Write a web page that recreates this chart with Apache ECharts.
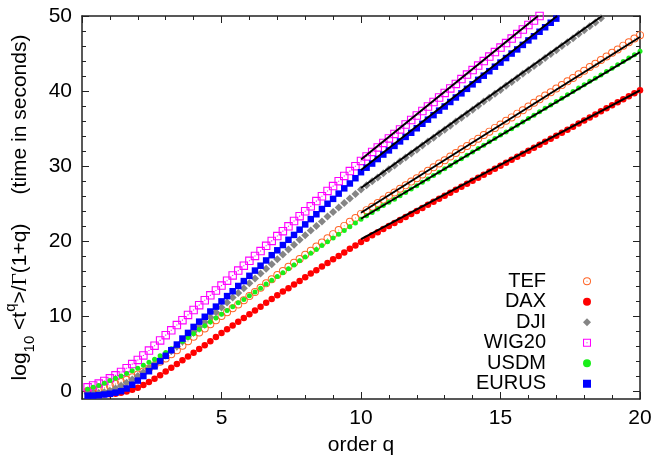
<!DOCTYPE html>
<html>
<head>
<meta charset="utf-8">
<script src="https://cdn.jsdelivr.net/npm/echarts@6/dist/echarts.min.js"></script>
<style>
html,body{margin:0;padding:0;background:#fff;}
#chart{width:655px;height:462px;}
</style>
</head>
<body>
<div id="chart"></div>
<script>
// order q (x values of the markers)
const Q = [0.2,0.4,0.6,0.8,1,1.2,1.4,1.6,1.8,2,2.2,2.4,2.6,2.8,3,3.2,3.4,3.6,3.8,4,
4.2,4.4,4.6,4.8,5,5.2,5.4,5.6,5.8,6,6.2,6.4,6.6,6.8,7,7.2,7.4,7.6,7.8,8,
8.2,8.4,8.6,8.8,9,9.2,9.4,9.6,9.8,10,10.2,10.4,10.6,10.8,11,11.2,11.4,11.6,11.8,12,
12.2,12.4,12.6,12.8,13,13.2,13.4,13.6,13.8,14,14.2,14.4,14.6,14.8,15,15.2,15.4,15.6,15.8,16,
16.2,16.4,16.6,16.8,17,17.2,17.4,17.6,17.8,18,18.2,18.4,18.6,18.8,19,19.2,19.4,19.6,19.8,20];

const TEF = [0.05,0.15,0.3,0.5,0.75,1.0,1.25,1.55,1.9,2.25,
2.65,3.05,3.5,3.95,4.4,4.95,5.5,6.1,6.7,7.3,
7.85,8.4,8.95,9.5,10.05,10.55,11.1,11.6,12.15,12.7,
13.25,13.8,14.4,14.95,15.5,16.05,16.6,17.15,17.65,18.2,
18.75,19.3,19.85,20.4,20.95,21.5,22.05,22.6,23.1,23.65,
24.15,24.6,25.1,25.55,26.05,26.5,27.0,27.45,27.95,28.4,
28.9,29.4,29.85,30.35,30.8,31.3,31.75,32.25,32.7,33.2,
33.65,34.15,34.6,35.1,35.55,36.05,36.5,37.0,37.45,37.95,
38.45,38.9,39.4,39.85,40.35,40.8,41.3,41.75,42.25,42.7,
43.2,43.65,44.15,44.6,45.1,45.55,46.05,46.5,47.0,47.45];

const DAX = [-0.15,-0.25,-0.32,-0.36,-0.36,-0.3,-0.18,0.0,0.22,0.5,
0.85,1.25,1.7,2.15,2.65,3.15,3.65,4.15,4.65,5.15,
5.65,6.15,6.7,7.25,7.8,8.3,8.8,9.3,9.8,10.3,
10.8,11.3,11.8,12.3,12.8,13.3,13.75,14.25,14.7,15.2,
15.7,16.15,16.65,17.1,17.6,18.05,18.5,19.0,19.45,19.9,
20.35,20.8,21.2,21.65,22.05,22.45,22.85,23.25,23.65,24.05,
24.45,24.85,25.25,25.65,26.05,26.45,26.85,27.25,27.65,28.05,
28.45,28.85,29.25,29.65,30.05,30.45,30.85,31.25,31.65,32.05,
32.45,32.85,33.25,33.65,34.05,34.45,34.85,35.25,35.7,36.1,
36.5,36.9,37.3,37.7,38.1,38.5,38.9,39.3,39.7,40.1];

const DJI = [-0.25,-0.25,-0.2,-0.1,0.1,0.4,0.75,1.15,1.6,2.05,
2.55,3.1,3.65,4.2,4.8,5.4,6.0,6.65,7.3,7.95,
8.6,9.25,9.9,10.55,11.2,11.85,12.5,13.1,13.75,14.4,
15.05,15.7,16.35,16.95,17.6,18.25,18.9,19.55,20.2,20.8,
21.45,22.05,22.65,23.3,23.9,24.5,25.1,25.7,26.3,26.9,
27.45,28.0,28.5,29.05,29.6,30.1,30.65,31.15,31.7,32.2,
32.75,33.3,33.8,34.35,34.85,35.4,35.95,36.45,37.0,37.5,
38.05,38.6,39.1,39.65,40.15,40.7,41.2,41.75,42.3,42.8,
43.35,43.85,44.4,44.95,45.45,46.0,46.5,47.05,47.6,48.1,
48.65,49.15,49.7];

const WIG20 = [0.55,0.8,1.05,1.4,1.75,2.15,2.6,3.1,3.65,4.2,
4.8,5.45,6.1,6.8,7.5,8.15,8.85,9.5,10.2,10.85,
11.5,12.15,12.8,13.45,14.1,14.75,15.45,16.1,16.75,17.4,
18.05,18.7,19.4,20.05,20.7,21.35,22.0,22.7,23.35,24.0,
24.65,25.35,26.0,26.7,27.35,28.0,28.7,29.35,30.0,30.7,
31.3,31.9,32.5,33.1,33.7,34.3,34.9,35.55,36.15,36.75,
37.35,37.95,38.55,39.15,39.75,40.35,40.95,41.6,42.2,42.8,
43.4,44.0,44.6,45.2,45.8,46.4,47.0,47.6,48.2,48.8,
49.4,50.0];

const USDM = [0.3,0.55,0.8,1.1,1.45,1.75,2.05,2.4,2.75,3.1,
3.5,3.9,4.3,4.75,5.2,5.7,6.2,6.7,7.2,7.7,
8.25,8.75,9.25,9.8,10.3,10.8,11.3,11.8,12.25,12.75,
13.25,13.75,14.3,14.8,15.3,15.8,16.35,16.85,17.4,17.9,
18.4,18.9,19.45,19.95,20.45,20.95,21.45,21.95,22.45,22.95,
23.4,23.85,24.3,24.75,25.2,25.6,26.05,26.5,26.95,27.4,
27.85,28.3,28.75,29.2,29.65,30.1,30.55,31.0,31.45,31.9,
32.35,32.8,33.25,33.7,34.15,34.55,35.0,35.45,35.9,36.35,
36.8,37.25,37.7,38.15,38.6,39.05,39.5,39.95,40.4,40.85,
41.3,41.7,42.15,42.6,43.05,43.5,43.95,44.4,44.85,45.3];

const EURUS = [-0.55,-0.55,-0.5,-0.4,-0.3,-0.15,0.05,0.4,0.9,1.45,
2.05,2.7,3.35,4.05,4.75,5.5,6.25,7.05,7.8,8.6,
9.3,9.95,10.65,11.3,12.0,12.7,13.35,14.05,14.7,15.4,
16.1,16.75,17.45,18.15,18.8,19.5,20.2,20.85,21.55,22.25,
22.95,23.6,24.3,25.0,25.65,26.35,27.05,27.7,28.4,29.2,
29.8,30.35,30.95,31.55,32.1,32.7,33.3,33.9,34.45,35.05,
35.65,36.2,36.8,37.4,37.95,38.55,39.15,39.7,40.3,40.9,
41.5,42.05,42.65,43.25,43.8,44.4,45.0,45.55,46.15,46.75,
47.3,47.9,48.5,49.1,49.65];

// straight-line fits (black), in legend order TEF, DAX, DJI, WIG20, USDM, EURUS
const FIT_START_Q = [10, 10, 10, 10, 10, 10];
const FIT_START_V = [23.8, 20.3, 27.1, 30.9, 23.0, 29.5];
const FIT_END_Q = [20, 20, 18.64, 16.34, 20, 17.03];
const FIT_END_V = [47.2, 40.1, 50, 50, 45.2, 50];

const NAMES = ['TEF', 'DAX', 'DJI', 'WIG20', 'USDM', 'EURUS'];
const VALUES = [TEF, DAX, DJI, WIG20, USDM, EURUS];

const X_LABELS = [5, 10, 15, 20];
const Y_LABELS = [0, 10, 20, 30, 40, 50];
const Y_MINOR = [2,4,6,8,12,14,16,18,22,24,26,28,32,34,36,38,42,44,46,48];

const FONT = 'Liberation Sans';
const RING = 'path://M10,0A10,10 0 1,1 10,20A10,10 0 1,1 10,0ZM10,2.4A7.6,7.6 0 1,0 10,17.6A7.6,7.6 0 1,0 10,2.4ZM9,9H11V11H9Z';
const SQRING = 'path://M0,0H20V20H0ZM2.6,2.6V17.4H17.4V2.6ZM8.7,8.7H11.3V11.3H8.7Z';

const STYLES = [
  {symbol: RING, size: 8, color: '#ff6426'},
  {symbol: 'circle', size: 6.5, color: '#ff0000'},
  {symbol: 'diamond', size: 8, color: '#858585'},
  {symbol: SQRING, size: 8.5, color: '#ff00ff'},
  {symbol: 'circle', size: 5, color: '#1aee1a'},
  {symbol: 'rect', size: 6.5, color: '#0000ff'}
];

const series = [];
NAMES.forEach((n, k) => {
  series.push({
    name: n, type: 'scatter', xAxisIndex: 0, yAxisIndex: 0,
    symbol: STYLES[k].symbol, symbolSize: STYLES[k].size,
    itemStyle: {color: STYLES[k].color, opacity: 1},
    data: VALUES[k].map((v, i) => [Q[i], v]),
    z: 2, clip: true, silent: true
  });
});
NAMES.forEach((n, k) => {
  series.push({
    type: 'line', xAxisIndex: 0, yAxisIndex: 0, symbol: 'none', clip: true, silent: true,
    lineStyle: {color: '#000', width: 2},
    data: [[FIT_START_Q[k], FIT_START_V[k]], [FIT_END_Q[k], FIT_END_V[k]]],
    z: 3
  });
});

const frame = {show: true, onZero: false, lineStyle: {color: '#222', width: 1.5}};
const gridBox = {left: 82, right: 15, top: 16, bottom: 63, outerBoundsMode: 'none', containLabel: false};

const option = {
  animation: false,
  backgroundColor: '#fff',
  textStyle: {fontFamily: FONT},
  grid: [Object.assign({}, gridBox), Object.assign({}, gridBox)],
  legend: {
    orient: 'vertical', right: 64, top: 271, align: 'right',
    itemWidth: 8, itemHeight: 8, itemGap: 0, padding: 0,
    selectedMode: false,
    textStyle: {fontSize: 20, color: '#000', fontFamily: FONT, lineHeight: 20.5, padding: [0, 32, 0, 0]},
    data: NAMES
  },
  xAxis: [
    {type: 'value', gridIndex: 0, min: 0, max: 20, interval: 5, position: 'bottom',
     axisLine: frame,
     axisTick: {show: true, inside: true, length: 7, lineStyle: {color: '#222'}},
     minorTick: {show: true, splitNumber: 5, length: 4, lineStyle: {color: '#222'}},
     axisLabel: {customValues: X_LABELS, fontSize: 21, color: '#000', fontFamily: FONT, margin: 9},
     splitLine: {show: false}, minorSplitLine: {show: false},
     name: 'order q', nameLocation: 'middle', nameGap: 36,
     nameTextStyle: {fontSize: 21, color: '#000', fontFamily: FONT}},
    {type: 'value', gridIndex: 0, min: 0, max: 20, interval: 5, position: 'top',
     axisLine: frame,
     axisTick: {show: true, inside: true, length: 7, lineStyle: {color: '#222'}},
     minorTick: {show: true, splitNumber: 5, length: 4, lineStyle: {color: '#222'}},
     axisLabel: {show: false}, splitLine: {show: false}},
    {type: 'value', gridIndex: 1, min: 0, max: 20, show: false}
  ],
  yAxis: [
    {type: 'value', gridIndex: 0, min: -1, max: 50, position: 'left',
     axisLine: frame,
     axisTick: {show: true, inside: true, length: 7, customValues: Y_LABELS, lineStyle: {color: '#222'}},
     axisLabel: {customValues: Y_LABELS, fontSize: 21, color: '#000', fontFamily: FONT, margin: 10},
     splitLine: {show: false},
     name: '{a|log}{b|10}{a| <t}{c|q}{a|>/}{g|Γ}{a|(1+q)     (time in seconds)}',
     nameLocation: 'middle', nameRotate: 90, nameGap: 45,
     nameTextStyle: {fontSize: 21, color: '#000', fontFamily: FONT,
       rich: {
         a: {fontSize: 21, lineHeight: 34, color: '#000', fontFamily: FONT},
         b: {fontSize: 15, lineHeight: 15, verticalAlign: 'bottom', color: '#000', fontFamily: FONT},
         c: {fontSize: 15, lineHeight: 15, verticalAlign: 'top', color: '#000', fontFamily: FONT},
         g: {fontSize: 21, lineHeight: 34, color: '#000', fontFamily: 'Liberation Serif'}
       }}},
    {type: 'value', gridIndex: 0, min: -1, max: 50, position: 'right',
     axisLine: frame,
     axisTick: {show: true, inside: true, length: 7, customValues: Y_LABELS, lineStyle: {color: '#222'}},
     axisLabel: {show: false}, splitLine: {show: false}},
    {type: 'value', gridIndex: 1, min: -1, max: 50, position: 'left',
     axisLine: {show: false},
     axisTick: {show: true, inside: true, length: 4, customValues: Y_MINOR, lineStyle: {color: '#222'}},
     axisLabel: {show: false}, splitLine: {show: false}},
    {type: 'value', gridIndex: 1, min: -1, max: 50, position: 'right',
     axisLine: {show: false},
     axisTick: {show: true, inside: true, length: 4, customValues: Y_MINOR, lineStyle: {color: '#222'}},
     axisLabel: {show: false}, splitLine: {show: false}}
  ],
  series: series
};

const chart = echarts.init(document.getElementById('chart'), null, {renderer: 'canvas'});
chart.setOption(option);
</script>
</body>
</html>
